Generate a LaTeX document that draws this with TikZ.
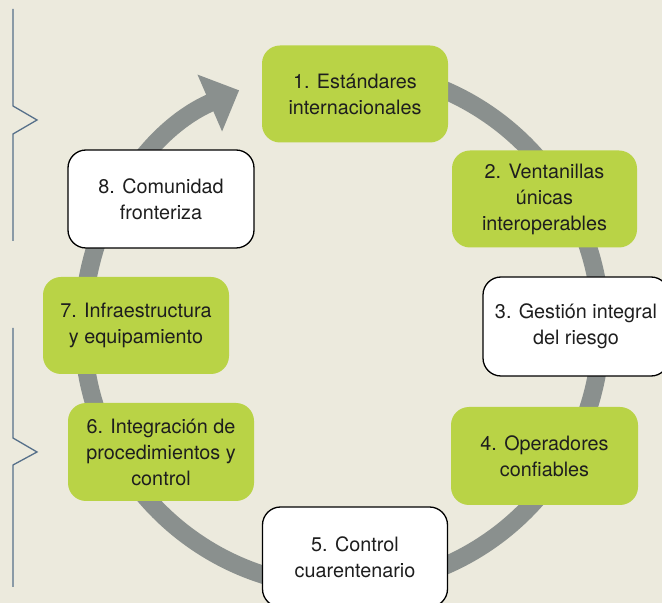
\documentclass[tikz,border=0pt]{standalone}
\usepackage{fontspec}
\setmainfont{TeX Gyre Heros}
\usetikzlibrary{arrows.meta}
\definecolor{bg}{HTML}{ECEADD}
\definecolor{leaf}{HTML}{B9D346}
\definecolor{ringgray}{HTML}{8A908E}
\definecolor{brk}{HTML}{56708A}
\definecolor{ink}{HTML}{1E1E1E}
\tikzset{
  box/.style={rounded corners=18pt, minimum width=186pt, minimum height=97pt,
    inner sep=0pt, align=center, text=ink,
    font=\fontsize{19.8}{26}\selectfont},
  greenbox/.style={box, fill=leaf},
  whitebox/.style={box, fill=white, draw=black, line width=1.3pt},
  ring/.style={draw=ringgray, line width=18pt,
    -{Triangle[length=32pt,width=60pt]}},
  bracket/.style={draw=brk, line width=1.3pt, line join=miter},
}
\begin{document}
\begin{tikzpicture}[x=1pt,y=1pt]
\fill[bg] (0,0) rectangle (662,603);
\useasboundingbox (0,0) rectangle (662,603);
\begin{scope}
\clip (0,0) rectangle (662,603);
% brackets
\draw[bracket] (13,594) -- (13,497) -- (37,483) -- (13,469) -- (13,362);
\draw[bracket] (13,275) -- (13,165) -- (37,151) -- (13,138) -- (13,16);
% ring
\coordinate (c) at (342,275);
\draw[ring] (c) ++(90:259) arc[start angle=90, end angle=-246.6, radius=259];
% nodes
\node[greenbox] (n1) at (355,509) {1. Estándares\\internacionales};
\node[greenbox, minimum width=185pt] (n2) at (544.5,404) {2. Ventanillas\\únicas\\interoperables};
\node[whitebox, minimum height=99pt] (n3) at (576,276.5) {3. Gestión integral\\del riesgo};
\node[greenbox, minimum width=187pt, minimum height=98pt] (n4) at (544.5,147) {4. Operadores\\confiables};
\node[whitebox, minimum width=185pt, minimum height=100pt] (n5) at (355,46) {5. Control\\cuarentenario};
\node[greenbox, minimum height=98pt] (n6) at (161,151) {6. Integración de\\procedimientos y\\control};
\node[greenbox] (n7) at (136,277.5) {7. Infraestructura\\y equipamiento};
\node[whitebox, minimum height=98pt] (n8) at (161,404) {8. Comunidad\\fronteriza};
\end{scope}
\end{tikzpicture}
\end{document}
